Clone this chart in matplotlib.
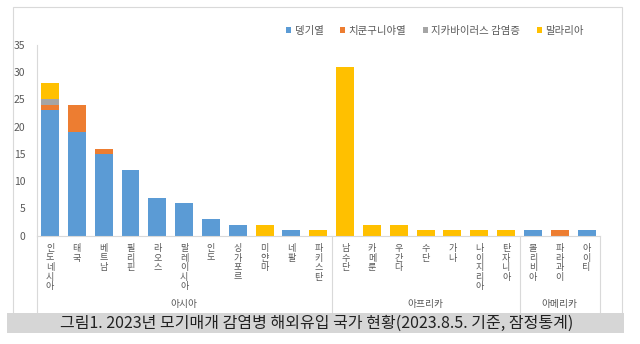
import matplotlib
matplotlib.use("Agg")
import matplotlib.pyplot as plt
from matplotlib.patches import Rectangle, Patch
from matplotlib.lines import Line2D

plt.rcParams['font.family'] = ['Noto Sans CJK KR', 'DejaVu Sans']

countries = ['인도네시아', '태국', '베트남', '필리핀', '라오스', '말레이시아', '인도',
             '싱가포르', '미얀마', '네팔', '파키스탄',
             '남수단', '카메룬', '우간다', '수단', '가나', '나이지리아', '탄자니아',
             '볼리비아', '파라과이', '아이티']
regions = ['아시아', '아프리카', '아메리카']
region_sizes = [11, 7, 3]

dengue      = [23, 19, 15, 12, 7, 6, 3, 2, 0, 1, 0, 0, 0, 0, 0, 0, 0, 0, 1, 0, 1]
chikungunya = [1, 5, 1, 0, 0, 0, 0, 0, 0, 0, 0, 0, 0, 0, 0, 0, 0, 0, 0, 1, 0]
zika        = [1, 0, 0, 0, 0, 0, 0, 0, 0, 0, 0, 0, 0, 0, 0, 0, 0, 0, 0, 0, 0]
malaria     = [3, 0, 0, 0, 0, 0, 0, 0, 2, 0, 1, 31, 2, 2, 1, 1, 1, 1, 0, 0, 0]

series = [('뎅기열', dengue, '#5B9BD5'),
          ('치쿤구니야열', chikungunya, '#ED7D31'),
          ('지카바이러스 감염증', zika, '#A5A5A5'),
          ('말라리아', malaria, '#FFC000')]

W, H = 640, 344
fig = plt.figure(figsize=(W / 100, H / 100), dpi=100)

def fx(px):
    return px / W

def fy(py):
    return 1 - py / H

# outer chart frame
fig.patches.append(Rectangle((fx(13), fy(314)), fx(622) - fx(13), fy(7) - fy(314),
                             transform=fig.transFigure, fill=False,
                             edgecolor='#D9D9D9', linewidth=0.8, zorder=0))

ax = fig.add_axes([fx(36.6), fy(235.7), fx(600) - fx(36.6), fy(45) - fy(235.7)])

x = list(range(len(countries)))
bottom = [0] * len(countries)
for name, vals, color in series:
    ax.bar(x, vals, width=0.67, bottom=bottom, color=color, label=name, zorder=2)
    bottom = [b + v for b, v in zip(bottom, vals)]

ax.set_xlim(-0.5, len(countries) - 0.5)
ax.set_ylim(0, 35)
ax.set_yticks(range(0, 36, 5))
ax.tick_params(axis='y', length=0, pad=8, labelsize=7.5, labelcolor='#595959')
ax.set_xticks(x)
ax.set_xticklabels(['\n'.join(c) for c in countries], fontsize=6.5,
                   color='#595959', linespacing=1.08, va='top')
ax.tick_params(axis='x', length=0, pad=6)

for side in ['top', 'right']:
    ax.spines[side].set_visible(False)
ax.spines['left'].set_color('#D9D9D9')
ax.spines['bottom'].set_color('#D9D9D9')
ax.spines['left'].set_linewidth(0.8)
ax.spines['bottom'].set_linewidth(0.8)

# region separators and labels below the category labels
sep_bottom = -(313 - 235.7) / (235.7 - 45)
label_y = -(304 - 235.7) / (235.7 - 45)
trans = ax.get_xaxis_transform()
edges = [-0.5]
for n in region_sizes:
    edges.append(edges[-1] + n)
for e in edges:
    ax.add_line(Line2D([e, e], [0, sep_bottom], transform=trans, color='#D9D9D9',
                       linewidth=0.8, clip_on=False))
for name, a, b in zip(regions, edges[:-1], edges[1:]):
    ax.text((a + b) / 2, label_y, name, transform=trans, ha='center', va='center',
            fontsize=7, color='#595959')

handles = [Patch(facecolor=c, label=n) for n, _, c in series]
fig.legend(handles=handles, loc='center', bbox_to_anchor=(fx(435), fy(31)), ncol=4,
           frameon=False, fontsize=7.5, handlelength=0.5, handleheight=0.5,
           handletextpad=0.3, columnspacing=1.6, labelcolor='#595959')

# caption band
fig.patches.append(Rectangle((fx(7), fy(333)), fx(624) - fx(7), fy(313) - fy(333),
                             transform=fig.transFigure, facecolor='#D6D6D6',
                             edgecolor='none', zorder=1))
fig.text(fx(317), fy(323.5), '그림1. 2023년 모기매개 감염병 해외유입 국가 현황(2023.8.5. 기준, 잠정통계)',
         ha='center', va='center', fontsize=11.5, color='#222222', zorder=2)

fig.savefig('out.png', dpi=100)
